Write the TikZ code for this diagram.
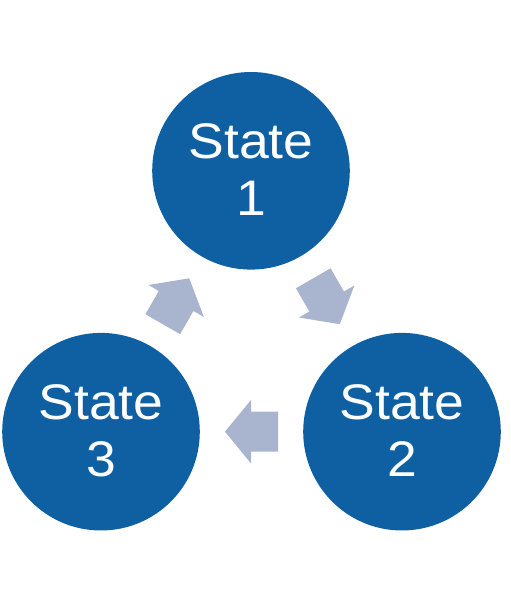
\documentclass[tikz,border=0pt]{standalone}
\usepackage{fontspec}
\setmainfont{Liberation Sans}
\newfontfamily\statefont[FakeStretch=1.07]{Liberation Sans}
\usetikzlibrary{calc}
\definecolor{stateblue}{RGB}{14,96,163}
\definecolor{arrowgrey}{RGB}{169,181,206}
\newcommand{\lift}[1]{\raisebox{3pt}{#1}}
\begin{document}
\begin{tikzpicture}[x=1pt,y=1pt,
  statenode/.style={circle, fill=stateblue, draw=none, minimum size=197.6pt, inner sep=0pt,
    text=white, align=center, font=\statefont\fontsize{50}{57}\selectfont},
  blockarrow/.style={fill=arrowgrey, draw=none}]
\useasboundingbox (0,0) rectangle (511,603);
\node[statenode] (s1) at (251,432.2) {\lift{State}\\\lift{1}};
\node[statenode] (s2) at (402,171.3) {\lift{State}\\\lift{2}};
\node[statenode] (s3) at (101,171.3) {\lift{State}\\\lift{3}};
\coordinate (m12) at ($(s1)!0.5!(s2)$);
\coordinate (m23) at ($(s2)!0.5!(s3)$);
\coordinate (m31) at ($(s3)!0.5!(s1)$);
\foreach \m/\a in {m12/-60, m23/180, m31/60}{
  \fill[blockarrow, shift={(\m)}, rotate=\a]
    (-26.5,-20) -- (0.3,-20) -- (0.3,-32) -- (26.5,0) -- (0.3,32) -- (0.3,20) -- (-26.5,20) -- cycle;
}
\end{tikzpicture}
\end{document}
